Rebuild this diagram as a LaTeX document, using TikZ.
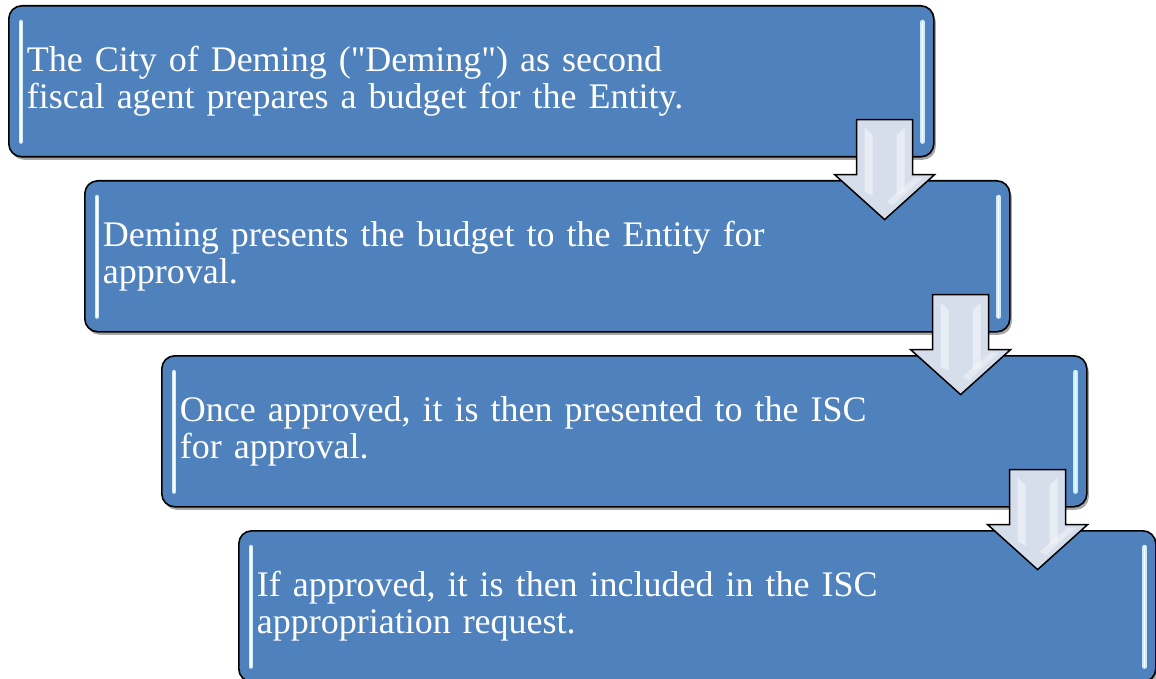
\documentclass[tikz,border=0pt]{standalone}
\usepackage{fontspec}
\setmainfont{Liberation Serif}[Ligatures=TeXOff]
\usetikzlibrary{calc,shadows}
\definecolor{boxblue}{RGB}{79,129,189}
\definecolor{arrowfill}{RGB}{214,222,236}
\definecolor{glint}{RGB}{205,235,255}
\newcommand\boxfont{\fontsize{36}{37}\selectfont}
\newcommand\blockarr[2]{%
  \coordinate (#2) at ($(#1)+(-50,-38)$);
  \draw[arrowshape] ($(#2)+(-28,0)$) -- ++(56,0) -- ++(0,55) -- ++(22,0) -- ++(-50,45) -- ++(-50,-45) -- ++(22,0) -- cycle;
  \fill[white,opacity=0.45] ($(#2)+(-20,8)$) -- ++(8,8) -- ++(0,60) -- ++(-8,-4) -- cycle;
  \fill[white,opacity=0.45] ($(#2)+(20,8)$) -- ++(-8,8) -- ++(0,60) -- ++(8,-4) -- cycle;
  \fill[white,opacity=0.35] ($(#2)+(8,86)$) -- ++(30,-28) -- ++(-8,0) -- ++(-28,24) -- cycle;
}
\begin{document}
\begin{tikzpicture}[x=1pt,y=-1pt]
\useasboundingbox (0,0) rectangle (1156,679);
\tikzset{
  stepbox/.style={draw=black, line width=1.6pt, fill=boxblue, rounded corners=13pt,
    minimum width=925pt, minimum height=151pt, anchor=north west, inner xsep=18pt, inner ysep=0pt,
    text=white, text width=889pt, align=left,
    font=\boxfont,
    drop shadow={shadow xshift=2pt, shadow yshift=-3pt, opacity=0.35, fill=black}},
  glow/.style={line width=4.5pt, glint, line cap=round},
  glowin/.style={line width=1.6pt, white, line cap=round},
  arrowshape/.style={draw=black, line width=1.5pt, fill=arrowfill, line join=miter}
}
\node[stepbox] (b1) at (8,5) {The City of Deming ("Deming") as second\\fiscal agent prepares a budget for the Entity.};
\node[stepbox] (b2) at (84,180) {Deming presents the budget to the Entity for\\approval.};
\node[stepbox] (b3) at (161,355) {Once approved, it is then presented to the ISC\\for approval.};
\node[stepbox, minimum width=917pt, text width=881pt] (b4) at (238,530) {If approved, it is then included in the ISC\\appropriation request.};
\foreach \b in {b1,b2,b3,b4}{
  \draw[glow] ($(\b.north west)+(13,17)$) -- ($(\b.south west)+(13,-16)$);
  \draw[glowin] ($(\b.north west)+(13,17)$) -- ($(\b.south west)+(13,-16)$);
  \draw[glow] ($(\b.north east)+(-12,17)$) -- ($(\b.south east)+(-12,-16)$);
  \draw[glowin] ($(\b.north east)+(-12,17)$) -- ($(\b.south east)+(-12,-16)$);
}
\blockarr{b1.south east}{a1}
\blockarr{b2.south east}{a2}
\blockarr{b3.south east}{a3}
\end{tikzpicture}
\end{document}
